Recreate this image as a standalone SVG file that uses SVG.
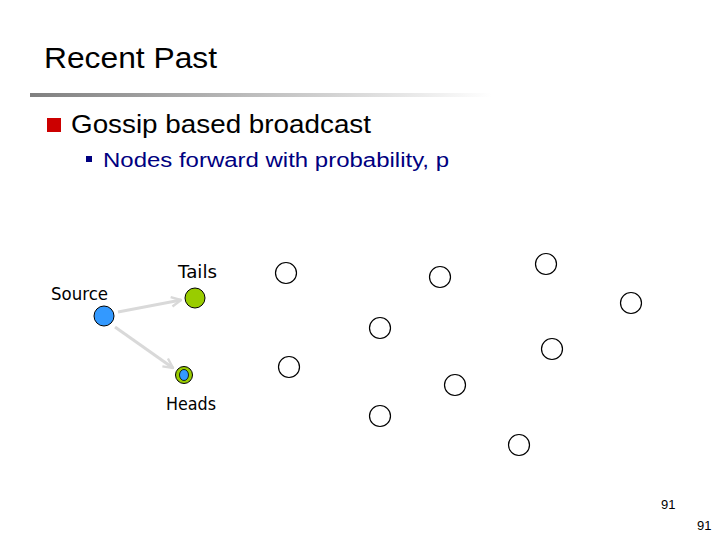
<svg xmlns="http://www.w3.org/2000/svg" width="720" height="540" viewBox="0 0 720 540">
<style>
.t{font-family:"Liberation Sans",Arial,sans-serif}
.lbl{font-family:"DejaVu Sans","Liberation Sans",sans-serif;font-size:17px;fill:#000}
.n{fill:#fff;stroke:#000;stroke-width:1.2}
.ar{stroke:#d9d9d9;stroke-width:3;fill:none}
</style>
<defs>
<linearGradient id="g" x1="0" x2="1" y1="0" y2="0">
<stop offset="0" stop-color="#7f7f7f"/>
<stop offset="1" stop-color="#ffffff"/>
</linearGradient>
<marker id="ah" viewBox="0 0 10 10" refX="9" refY="5" markerWidth="4" markerHeight="4" orient="auto" markerUnits="strokeWidth">
<path d="M1,1 L9,5 L1,9" fill="none" stroke="#d9d9d9" stroke-width="2"/>
</marker>
</defs>
<rect width="720" height="540" fill="#fff"/>
<text class="t" x="44" y="68" font-size="30" textLength="173" lengthAdjust="spacingAndGlyphs">Recent Past</text>
<rect x="30" y="93" width="462" height="4" fill="url(#g)"/>
<rect x="47" y="118" width="14" height="14" fill="#cc0000"/>
<text class="t" x="71" y="133" font-size="25" textLength="300" lengthAdjust="spacingAndGlyphs">Gossip based broadcast</text>
<rect x="86" y="156" width="6" height="6" fill="#000080"/>
<text class="t" x="103" y="167" font-size="20" fill="#000080" textLength="346" lengthAdjust="spacingAndGlyphs">Nodes forward with probability, p</text>
<g id="connectors">
<line class="ar" x1="118" y1="312" x2="181" y2="300" marker-end="url(#ah)"/>
<line class="ar" x1="115" y1="327" x2="173" y2="368" marker-end="url(#ah)"/>
</g>
<g id="source"><circle cx="104" cy="316" r="10" fill="#3399ff" stroke="#000" stroke-width="1"/><text class="lbl" x="51" y="300" textLength="57" lengthAdjust="spacingAndGlyphs">Source</text></g>
<g id="tails"><circle cx="195" cy="298" r="10" fill="#99cc00" stroke="#000" stroke-width="1"/><text class="lbl" x="178" y="278" textLength="39" lengthAdjust="spacingAndGlyphs">Tails</text></g>
<g id="heads"><circle cx="184" cy="375" r="8.5" fill="#99cc00" stroke="#000" stroke-width="1"/><ellipse cx="184" cy="375" rx="4.5" ry="5.5" fill="#3399ff" stroke="#000" stroke-width="0.8"/><text class="lbl" x="166" y="410" textLength="50" lengthAdjust="spacingAndGlyphs">Heads</text></g>
<g id="n1"><circle class="n" cx="286" cy="273" r="10.5"/></g>
<g id="n2"><circle class="n" cx="440" cy="277" r="10.5"/></g>
<g id="n3"><circle class="n" cx="546" cy="264" r="10.5"/></g>
<g id="n4"><circle class="n" cx="631" cy="303" r="10.5"/></g>
<g id="n5"><circle class="n" cx="380" cy="328" r="10.5"/></g>
<g id="n6"><circle class="n" cx="552" cy="349" r="10.5"/></g>
<g id="n7"><circle class="n" cx="289" cy="367" r="10.5"/></g>
<g id="n8"><circle class="n" cx="455" cy="385" r="10.5"/></g>
<g id="n9"><circle class="n" cx="380" cy="416" r="10.5"/></g>
<g id="n10"><circle class="n" cx="519" cy="445" r="10.5"/></g>
<text class="t" x="661" y="509" font-size="13">91</text>
<text class="t" x="697" y="530" font-size="13">91</text>
</svg>
